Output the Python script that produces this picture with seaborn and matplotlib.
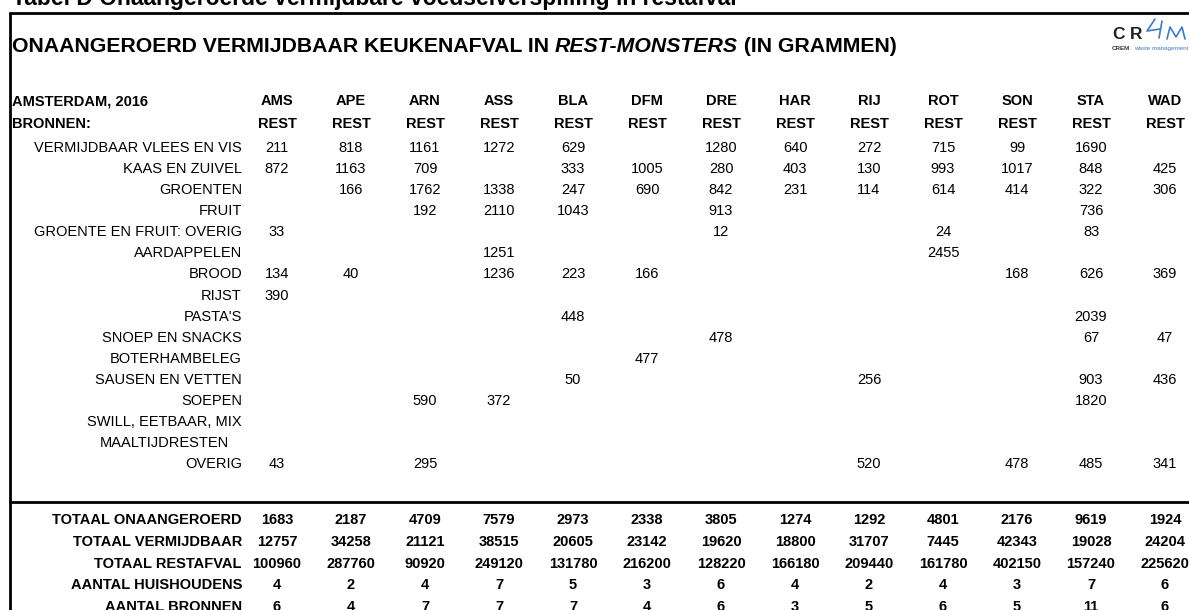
import numpy as np
import pandas as pd
import matplotlib
matplotlib.use('Agg')
import matplotlib.pyplot as plt
import matplotlib.transforms as mtransforms
from matplotlib.colors import ListedColormap
import seaborn as sns

# kolommen (locaties) en rijen (bronnen)
sites = ['AMS', 'APE', 'ARN', 'ASS', 'BLA', 'DFM', 'DRE', 'HAR', 'RIJ', 'ROT', 'SON', 'STA', 'WAD']
sources = ['VERMIJDBAAR VLEES EN VIS', 'KAAS EN ZUIVEL', 'GROENTEN', 'FRUIT',
           'GROENTE EN FRUIT: OVERIG', 'AARDAPPELEN', 'BROOD', 'RIJST', "PASTA'S",
           'SNOEP EN SNACKS', 'BOTERHAMBELEG', 'SAUSEN EN VETTEN', 'SOEPEN',
           'SWILL, EETBAAR, MIX', 'MAALTIJDRESTEN', 'OVERIG']
n = np.nan
vlees = [211, 818, 1161, 1272, 629, n, 1280, 640, 272, 715, 99, 1690, n]
kaas = [872, 1163, 709, n, 333, 1005, 280, 403, 130, 993, 1017, 848, 425]
groenten = [n, 166, 1762, 1338, 247, 690, 842, 231, 114, 614, 414, 322, 306]
fruit = [n, n, 192, 2110, 1043, n, 913, n, n, n, n, 736, n]
gf_overig = [33, n, n, n, n, n, 12, n, n, 24, n, 83, n]
aardappelen = [n, n, n, 1251, n, n, n, n, n, 2455, n, n, n]
brood = [134, 40, n, 1236, 223, 166, n, n, n, n, 168, 626, 369]
rijst = [390, n, n, n, n, n, n, n, n, n, n, n, n]
pasta = [n, n, n, n, 448, n, n, n, n, n, n, 2039, n]
snoep = [n, n, n, n, n, n, 478, n, n, n, n, 67, 47]
boterhambeleg = [n, n, n, n, n, 477, n, n, n, n, n, n, n]
sausen = [n, n, n, n, 50, n, n, n, 256, n, n, 903, 436]
soepen = [n, n, 590, 372, n, n, n, n, n, n, n, 1820, n]
swill = [n] * 13
maaltijdresten = [n] * 13
overig = [43, n, 295, n, n, n, n, n, 520, n, 478, 485, 341]

total_labels = ['TOTAAL ONAANGEROERD', 'TOTAAL VERMIJDBAAR', 'TOTAAL RESTAFVAL',
                'AANTAL HUISHOUDENS', 'AANTAL BRONNEN']
onaangeroerd = [1683, 2187, 4709, 7579, 2973, 2338, 3805, 1274, 1292, 4801, 2176, 9619, 1924]
vermijdbaar = [12757, 34258, 21121, 38515, 20605, 23142, 19620, 18800, 31707, 7445, 42343, 19028, 24204]
restafval = [100960, 287760, 90920, 249120, 131780, 216200, 128220, 166180, 209440, 161780, 402150, 157240, 225620]
huishoudens = [4, 2, 4, 7, 5, 3, 6, 4, 2, 4, 3, 7, 6]
bronnen = [6, 4, 7, 7, 7, 4, 6, 3, 5, 6, 5, 11, 6]

body = pd.DataFrame([vlees, kaas, groenten, fruit, gf_overig, aardappelen, brood, rijst,
                     pasta, snoep, boterhambeleg, sausen, soepen, swill, maaltijdresten, overig],
                    index=sources, columns=sites)
totals = pd.DataFrame([onaangeroerd, vermijdbaar, restafval, huishoudens, bronnen],
                      index=total_labels, columns=sites)

sns.set_theme(style='white')
plt.rcParams['font.family'] = ['Liberation Sans', 'DejaVu Sans']
plt.rcParams['text.color'] = 'black'

W, H = 1189, 610
fig = plt.figure(figsize=(W / 100, H / 100), dpi=100)
ax = fig.add_axes([0, 0, 1, 1])
ax.set_xlim(0, W)
ax.set_ylim(H, 0)
ax.axis('off')
ax.set_zorder(5)  # labels boven de heatmaps


def px_axes(left, top, right, bottom):
    return fig.add_axes([left / W, 1 - bottom / H, (right - left) / W, (bottom - top) / H])


FS = 10.5
left, col_w = 240, 74
lab_x = 242
white = ListedColormap(['white'])

# bovenste deel van de tabel
row_h = 21.07
hm = px_axes(left, 137.5, left + 13 * col_w, 137.5 + 16 * row_h)
sns.heatmap(body, ax=hm, cmap=white, cbar=False, annot=True, fmt='.0f',
            annot_kws=dict(fontsize=FS, color='black'), xticklabels=False, yticklabels=False)
hm.axis('off')

# totalen
ht = px_axes(left, 509, left + 13 * col_w, 509 + 5 * 21.8)
sns.heatmap(totals, ax=ht, cmap=white, cbar=False, annot=True, fmt='.0f',
            annot_kws=dict(fontsize=FS, color='black', fontweight='bold'),
            xticklabels=False, yticklabels=False)
ht.axis('off')

# rijlabels
tr_body = mtransforms.blended_transform_factory(ax.transData, hm.transData)
tr_tot = mtransforms.blended_transform_factory(ax.transData, ht.transData)
swill_txt = None
for i, lab in enumerate(sources):
    if lab == 'MAALTIJDRESTEN':
        continue
    t = ax.text(lab_x, i + 0.5, lab, transform=tr_body, ha='right', va='center', fontsize=FS)
    if lab.startswith('SWILL'):
        swill_txt = t
ax.annotate('MAALTIJDRESTEN', xy=(0.5, sources.index('MAALTIJDRESTEN') + 0.5),
            xycoords=(swill_txt, hm.transData), ha='center', va='center', fontsize=FS)
for i, lab in enumerate(total_labels):
    ax.text(lab_x, i + 0.5, lab, transform=tr_tot, ha='right', va='center',
            fontsize=FS, fontweight='bold')

# kolomkoppen
tr_head = mtransforms.blended_transform_factory(hm.transData, ax.transData)
for j, s in enumerate(sites):
    ax.text(j + 0.5, 101, s, transform=tr_head, ha='center', va='center', fontsize=FS, fontweight='bold')
    ax.text(j + 0.5, 124, 'REST', transform=tr_head, ha='center', va='center', fontsize=FS, fontweight='bold')
ax.text(12, 101, 'AMSTERDAM, 2016', ha='left', va='center', fontsize=FS, fontweight='bold')
ax.text(12, 124, 'BRONNEN:', ha='left', va='center', fontsize=FS, fontweight='bold')

# titels
ax.text(12, 4.5, 'Tabel D Onaangeroerde vermijdbare voedselverspilling in restafval',
        ha='left', va='baseline', fontsize=16.5, fontweight='bold')
TS = 15.3
t1 = ax.text(12, 47, 'ONAANGEROERD VERMIJDBAAR KEUKENAFVAL IN ', ha='left', va='center',
             fontsize=TS, fontweight='bold')
t2 = ax.annotate('REST-MONSTERS', xy=(1, 0), xycoords=t1, ha='left', va='bottom',
                 fontsize=TS, fontweight='bold', fontstyle='italic')
ax.annotate(' (IN GRAMMEN)', xy=(1, 0), xycoords=t2, ha='left', va='bottom',
            fontsize=TS, fontweight='bold')

# kader
ax.axhline(13, xmin=10 / W, color='black', lw=2)
ax.axvline(10, ymin=0, ymax=1 - 13 / H, color='black', lw=2)
ax.axhline(502, xmin=10 / W, color='black', lw=2)

# logo
blue = '#3b7cc4'
ax.text(1112, 39, 'C', ha='left', va='baseline', fontsize=12.5, fontweight='bold', color='#222222')
ax.text(1130, 39, 'R', ha='left', va='baseline', fontsize=12.5, fontweight='bold', color='#222222')
ax.plot([1155, 1147, 1160], [19, 31, 29], color=blue, lw=1.2)
ax.plot([1162, 1159], [21, 38], color=blue, lw=1.2)
ax.plot([1167, 1170, 1176, 1182, 1185], [39, 27, 37, 27, 39], color=blue, lw=1.2)
ax.text(1112, 50, 'CREM', ha='left', va='baseline', fontsize=4.5, fontweight='bold', color='#333333')
ax.text(1134, 50, 'waste management', ha='left', va='baseline', fontsize=4.5, color=blue)

fig.savefig('out.png', dpi=100, facecolor='white')
